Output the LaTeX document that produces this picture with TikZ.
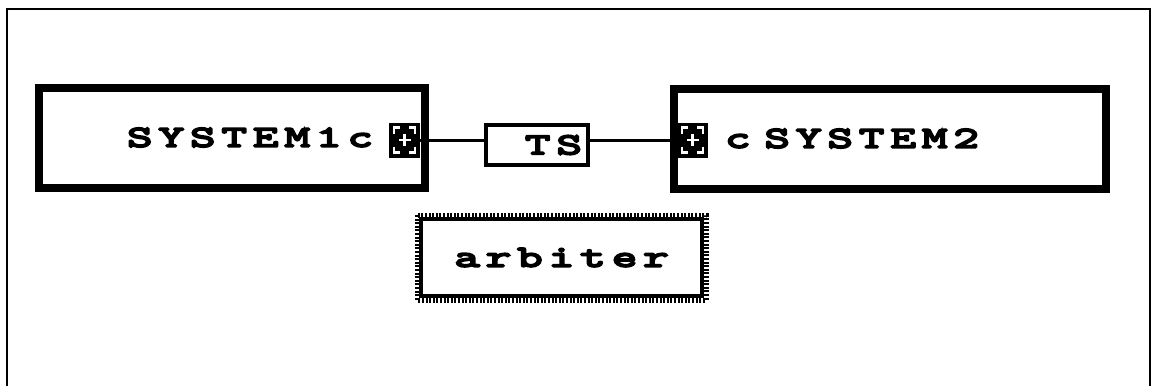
\documentclass[tikz,border=0pt]{standalone}
\usepackage{fontspec}
\usetikzlibrary{positioning}
\newfontfamily\boxfont{Latin Modern Mono}[FakeStretch=1.65,FakeBold=7,LetterSpace=20]

\tikzset{
  sysbox/.style={draw, line width=8, inner sep=0, outer sep=0,
    minimum height=100, font=\boxfont\fontsize{30}{32}\selectfont},
  port/.style={fill=black, minimum width=31, minimum height=35, inner sep=0, outer sep=0,
    path picture={
      \begin{scope}[white, line width=2.5]
        \draw ([shift={(5,11)}]path picture bounding box.north west) -- ++(0,-6) -- ++(6,0);
        \draw ([shift={(-5,11)}]path picture bounding box.north east) -- ++(0,-6) -- ++(-6,0);
        \draw ([shift={(5,-11)}]path picture bounding box.south west) -- ++(0,6) -- ++(6,0);
        \draw ([shift={(-5,-11)}]path picture bounding box.south east) -- ++(0,6) -- ++(-6,0);
        \draw ([shift={(-6,0)}]path picture bounding box.center) -- ++(12,0);
        \draw ([shift={(0,-6)}]path picture bounding box.center) -- ++(0,12);
      \end{scope}}},
  tsbox/.style={draw, line width=3.5, inner sep=0, outer sep=0,
    minimum width=102, minimum height=40, font=\boxfont\fontsize{30}{32}\selectfont},
  link/.style={line width=3},
  stipple/.style={line width=5, dash pattern=on 2 off 1.6}
}

\begin{document}
\begin{tikzpicture}[x=1pt,y=-1pt]
  \useasboundingbox (0,0) rectangle (1153,386);
  % frame
  \draw[line width=2.5] (7,386) -- (7,9) -- (1150,9) -- (1150,386);

  % the two systems with their ports
  \node[sysbox, minimum width=386, text width=282, inner xsep=52, align=right] (sys1) at (232,137.5) {SYSTEM1c};
  \node[sysbox, minimum width=432, text width=330, inner xsep=51, align=left] (sys2) at (890,138.5) {c\kern 14pt SYSTEM2};
  \node[port] (p1) at (404.5,140) {};
  \node[port] (p2) at (692.5,140) {};

  % channel
  \node[tsbox, text width=90, inner xsep=6, align=right] (ts) at (537,145) {TS};
  \draw[link] (p1.east) -- (p1.east -| ts.west);
  \draw[link] (p2.west) -- (p2.west -| ts.east);

  % arbiter
  \node[draw, line width=4, inner sep=0, outer sep=0, minimum width=281, minimum height=77,
    font=\boxfont\fontsize{30}{32}\selectfont] (arb) at (561.5,257.5) {arbiter};
  \draw[stipple] ([shift={(-4,-4)}]arb.north west) rectangle ([shift={(4,4)}]arb.south east);
\end{tikzpicture}
\end{document}
